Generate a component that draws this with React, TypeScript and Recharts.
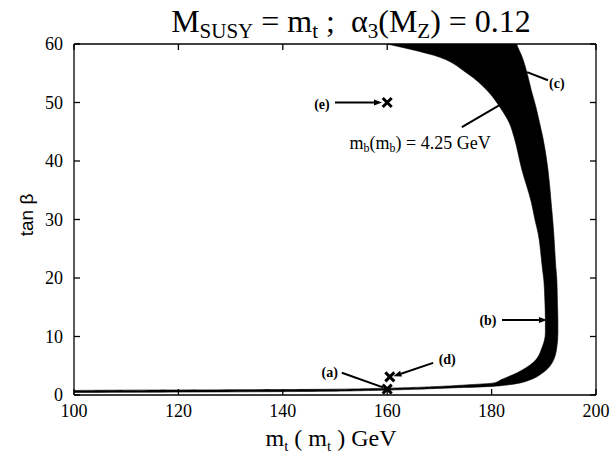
import React from 'react';
import { ComposedChart, Area, XAxis, YAxis, ReferenceDot, ReferenceLine } from 'recharts';

// tan(beta) rows of the allowed band (vertical layout: y is the independent value)
const bandY = [0.43, 0.6, 0.77, 0.97, 1.17, 1.47, 1.72, 2.07, 2.6, 3.8, 5.5, 8.2, 10.6, 12.8, 16.2, 19.7, 21.9, 27.7, 30, 33, 38.5, 44.1, 46.5, 49.2, 52.1, 55, 58.1, 59.5, 60];
// inner (left) edge of the band, m_t(m_t) in GeV
const bandInner = [100, 100, 100, 147, 160, 170, 175, 180.5, 181.8, 184.9, 187.9, 189.7, 190.3, 190.3, 190.2, 190.0, 189.7, 188.9, 188.3, 187.6, 185.8, 184.3, 183.4, 181.6, 179.1, 175.3, 168.8, 162.5, 160];
// outer (right) edge of the band
const bandOuter = [100, 144, 157, 165, 171, 180, 183, 185.5, 187.4, 189.8, 191.6, 192.5, 192.7, 192.7, 192.6, 192.5, 192.3, 191.9, 191.7, 191.4, 190.8, 189.8, 189.2, 188.5, 187.6, 186.8, 185.7, 185.0, 184.8];

const xTicks = [100, 120, 140, 160, 180, 200];
const yTicks = [0, 10, 20, 30, 40, 50, 60];

// marked points
const markX = [160, 160, 160.5];
const markY = [50, 1.0, 3.1];

// point labels
const labelText = ['(e)', '(a)', '(d)', '(b)', '(c)'];
const labelX = [147.5, 149, 171.5, 179.3, 192.5];
const labelY = [49.6, 3.8, 6.0, 12.8, 53.3];

// pointer segments
const arrowX1 = [150, 151.3, 168.8, 182, 190.8, 174.3];
const arrowY1 = [50, 3.8, 5.5, 12.8, 53.8, 45.8];
const arrowX2 = [159, 159.2, 161.2, 190.6, 186.8, 181.6];
const arrowY2 = [50, 1.3, 3.2, 12.8, 55.2, 49.6];
const arrowHead = [true, false, true, true, false, false];

const mbLabelX = 166.3;
const mbLabelY = 43.1;

const bandData = bandY.map((y, i) => ({ y, band: [bandInner[i], bandOuter[i]] }));

const SERIF = 'Liberation Serif, Times New Roman, serif';
const SANS = 'Liberation Sans, Arial, sans-serif';
const AX = { stroke: '#000', strokeWidth: 1.3 };
const TICK_LEN = 6;
const X_MARGIN = 9;
const Y_MARGIN = 11;

// tick renderers: label + inward tick mark
const BottomTick = (p: any) => {
  const { x, y, payload } = p;
  const ay = y - X_MARGIN;
  return (
    <g>
      <line x1={x} y1={ay} x2={x} y2={ay - TICK_LEN} stroke="#000" strokeWidth={1.3} />
      <text x={x} y={y} dy="0.71em" textAnchor="middle" fontFamily={SERIF} fontSize={18} fill="#000">
        {payload.value}
      </text>
    </g>
  );
};
const LeftTick = (p: any) => {
  const { x, y, payload } = p;
  const ax = x + Y_MARGIN;
  return (
    <g>
      <line x1={ax} y1={y} x2={ax + TICK_LEN} y2={y} stroke="#000" strokeWidth={1.3} />
      <text x={x} y={y} dy="0.355em" textAnchor="end" fontFamily={SERIF} fontSize={18} fill="#000">
        {payload.value}
      </text>
    </g>
  );
};
const TopTick = (p: any) => (
  <line x1={p.x} y1={p.y} x2={p.x} y2={p.y + TICK_LEN} stroke="#000" strokeWidth={1.3} />
);
const RightTick = (p: any) => (
  <line x1={p.x} y1={p.y} x2={p.x - TICK_LEN} y2={p.y} stroke="#000" strokeWidth={1.3} />
);

const XMark = (p: any) => {
  const { cx, cy } = p;
  const s = 4.5;
  return (
    <g>
      <line x1={cx - s} y1={cy - s} x2={cx + s} y2={cy + s} stroke="#000" strokeWidth={3} />
      <line x1={cx - s} y1={cy + s} x2={cx + s} y2={cy - s} stroke="#000" strokeWidth={3} />
    </g>
  );
};

const makeLabel = (text: string) => (p: any) => (
  <text x={p.cx} y={p.cy} textAnchor="middle" dominantBaseline="central" fontFamily={SERIF} fontWeight="bold" fontSize={14} fill="#000">
    {text}
  </text>
);

const MbLabel = (p: any) => (
  <text x={p.cx} y={p.cy} textAnchor="middle" dominantBaseline="central" fontFamily={SERIF} fontSize={18} fill="#000" style={{ whiteSpace: 'pre' }}>
    m<tspan fontSize={12} dy={5}>b</tspan>
    <tspan dy={-5}>(m</tspan>
    <tspan fontSize={12} dy={5}>b</tspan>
    <tspan dy={-5}>) = 4.25 GeV</tspan>
  </text>
);

const makeArrow = (head: boolean) => (p: any) => {
  const { x1, y1, x2, y2 } = p;
  if ([x1, y1, x2, y2].some((v) => typeof v !== 'number' || isNaN(v))) return <g />;
  const ang = Math.atan2(y2 - y1, x2 - x1);
  const L = 8;
  const W = 3;
  const bx = x2 - L * Math.cos(ang);
  const by = y2 - L * Math.sin(ang);
  const px = -Math.sin(ang) * W;
  const py = Math.cos(ang) * W;
  return (
    <g>
      <line x1={x1} y1={y1} x2={head ? bx : x2} y2={head ? by : y2} stroke="#000" strokeWidth={2} />
      {head && <polygon points={`${x2},${y2} ${bx + px},${by + py} ${bx - px},${by - py}`} fill="#000" />}
    </g>
  );
};

export default function App() {
  return (
    <div style={{ position: 'absolute', left: 0, top: 0, width: 612, height: 462, background: '#fff' }}>
      <ComposedChart
        width={612}
        height={462}
        layout="vertical"
        data={bandData}
        margin={{ top: 43, right: 15, bottom: 0, left: 0 }}
      >
        <XAxis
          xAxisId={0}
          type="number"
          domain={[100, 200]}
          allowDataOverflow
          ticks={xTicks}
          orientation="bottom"
          height={67}
          tickSize={0}
          tickMargin={X_MARGIN}
          axisLine={AX}
          tickLine={false}
          tick={BottomTick}
        />
        <XAxis
          xAxisId="top"
          type="number"
          domain={[100, 200]}
          allowDataOverflow
          ticks={xTicks}
          orientation="top"
          height={1}
          tickSize={0}
          tickMargin={0}
          axisLine={AX}
          tickLine={false}
          tick={TopTick}
        />
        <YAxis
          yAxisId={0}
          type="number"
          dataKey="y"
          domain={[0, 60]}
          allowDataOverflow
          reversed
          ticks={yTicks}
          orientation="left"
          width={74}
          tickSize={0}
          tickMargin={Y_MARGIN}
          axisLine={AX}
          tickLine={false}
          tick={LeftTick}
        />
        <YAxis
          yAxisId="right"
          type="number"
          dataKey="y"
          domain={[0, 60]}
          allowDataOverflow
          reversed
          ticks={yTicks}
          orientation="right"
          width={1}
          tickSize={0}
          tickMargin={0}
          axisLine={AX}
          tickLine={false}
          tick={RightTick}
        />
        <Area
          xAxisId={0}
          yAxisId={0}
          dataKey="band"
          type="monotone"
          fill="#000"
          fillOpacity={1}
          stroke="#000"
          strokeWidth={0.6}
          dot={false}
          activeDot={false}
          isAnimationActive={false}
        />
        {arrowX1.map((_, i) => (
          <ReferenceLine
            key={'a' + i}
            xAxisId={0}
            yAxisId={0}
            segment={[{ x: arrowX1[i], y: arrowY1[i] }, { x: arrowX2[i], y: arrowY2[i] }]}
            shape={makeArrow(arrowHead[i])}
            ifOverflow="visible"
          />
        ))}
        {markX.map((_, i) => (
          <ReferenceDot key={'m' + i} xAxisId={0} yAxisId={0} x={markX[i]} y={markY[i]} r={5} shape={XMark} ifOverflow="visible" />
        ))}
        {labelText.map((t, i) => (
          <ReferenceDot key={'l' + i} xAxisId={0} yAxisId={0} x={labelX[i]} y={labelY[i]} r={1} shape={makeLabel(t)} ifOverflow="visible" />
        ))}
        <ReferenceDot xAxisId={0} yAxisId={0} x={mbLabelX} y={mbLabelY} r={1} shape={MbLabel} ifOverflow="visible" />
        <text x={351} y={32} textAnchor="middle" fontFamily={SERIF} fontSize={32} fill="#000" style={{ whiteSpace: 'pre' }}>
          M<tspan fontSize={21} dy={6}>SUSY</tspan>
          <tspan dy={-6}> = m</tspan>
          <tspan fontSize={21} dy={6}>t</tspan>
          <tspan dy={-6}> ;  α</tspan>
          <tspan fontSize={21} dy={6}>3</tspan>
          <tspan dy={-6}>(M</tspan>
          <tspan fontSize={21} dy={6}>Z</tspan>
          <tspan dy={-6}>) = 0.12</tspan>
        </text>
        <text x={331} y={446} textAnchor="middle" fontFamily={SERIF} fontSize={24} fill="#000" style={{ whiteSpace: 'pre' }}>
          m<tspan fontSize={15} dy={5}>t</tspan>
          <tspan dy={-5}> ( m</tspan>
          <tspan fontSize={15} dy={5}>t</tspan>
          <tspan dy={-5}> ) GeV</tspan>
        </text>
        <text x={33} y={215} textAnchor="middle" fontFamily={SANS} fontSize={19} fill="#000" transform="rotate(-90 33 215)">
          tan β
        </text>
      </ComposedChart>
    </div>
  );
}
